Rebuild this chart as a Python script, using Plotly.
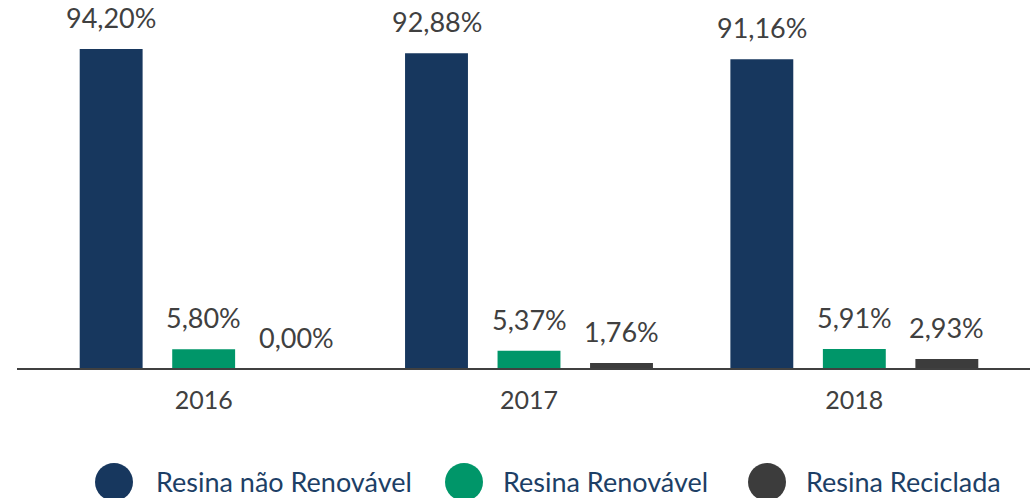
import plotly.graph_objects as go

years = ["2016", "2017", "2018"]
series_names = ["Resina não Renovável", "Resina Renovável", "Resina Reciclada"]
nao_renovavel = [94.20, 92.88, 91.16]
renovavel = [5.80, 5.37, 5.91]
reciclada = [0.00, 1.76, 2.93]
colors = ["#17375e", "#009669", "#3c3c3c"]

W, H = 1030, 498
ML, MR, MT, MB = 41, 13, 20, 129
PW, PH = W - ML - MR, H - MT - MB
FONT = "Lato"
TEXT_GRAY = "#404040"
SLOT = 92.5  # pixel distance between bars in a group

def fmt(v):
    return f"{v:.2f}".replace(".", ",") + "%"

fig = go.Figure()
annotations = []
all_series = [nao_renovavel, renovavel, reciclada]
for i, (name, vals, col) in enumerate(zip(series_names, all_series, colors)):
    fig.add_trace(go.Bar(
        x=years, y=vals, name=name, marker=dict(color=col, line=dict(width=0)),
        showlegend=False, hoverinfo="skip",
    ))
    for j, v in enumerate(vals):
        annotations.append(dict(x=j, y=v, xref="x", yref="y", xshift=(i - 1) * SLOT,
                                yshift=13, yanchor="bottom", xanchor="center",
                                showarrow=False, text=fmt(v),
                                font=dict(family=FONT, size=27, color=TEXT_GRAY)))

def px_x(p):
    return (p - ML) / PW

def px_y(p):
    return (H - MB - p) / PH

shapes = [dict(type="line", xref="paper", yref="paper", x0=px_x(17), x1=px_x(1032),
               y0=0, y1=0, line=dict(color=TEXT_GRAY, width=2))]
legend_pos = [(114, 154), (464, 501), (767, 804)]
for (cx, tx), name, col in zip(legend_pos, series_names, colors):
    r = 19
    shapes.append(dict(type="circle", xref="paper", yref="paper",
                       x0=px_x(cx - r), x1=px_x(cx + r), y0=px_y(482 + r), y1=px_y(482 - r),
                       fillcolor=col, line=dict(width=0)))
    annotations.append(dict(xref="paper", yref="paper", x=px_x(tx), y=px_y(481),
                            xanchor="left", yanchor="middle", showarrow=False, text=name,
                            font=dict(family=FONT, size=27, color="#1d3f66")))

fig.update_layout(
    width=W, height=H, margin=dict(l=ML, r=MR, t=MT, b=MB),
    paper_bgcolor="white", plot_bgcolor="white",
    barmode="group", bargap=0.147, bargroupgap=0.32,
    xaxis=dict(type="category", range=[-0.5, len(years) - 0.5], showline=False, showgrid=False,
               zeroline=False, ticks="",
               tickfont=dict(family=FONT, size=25, color=TEXT_GRAY), ticklabelstandoff=14),
    yaxis=dict(range=[0, 102.7], visible=False),
    shapes=shapes, annotations=annotations,
)
fig.write_html("out.html", config={"displayModeBar": False},
               post_script="document.body.style.margin='0';document.body.style.overflow='hidden';")
